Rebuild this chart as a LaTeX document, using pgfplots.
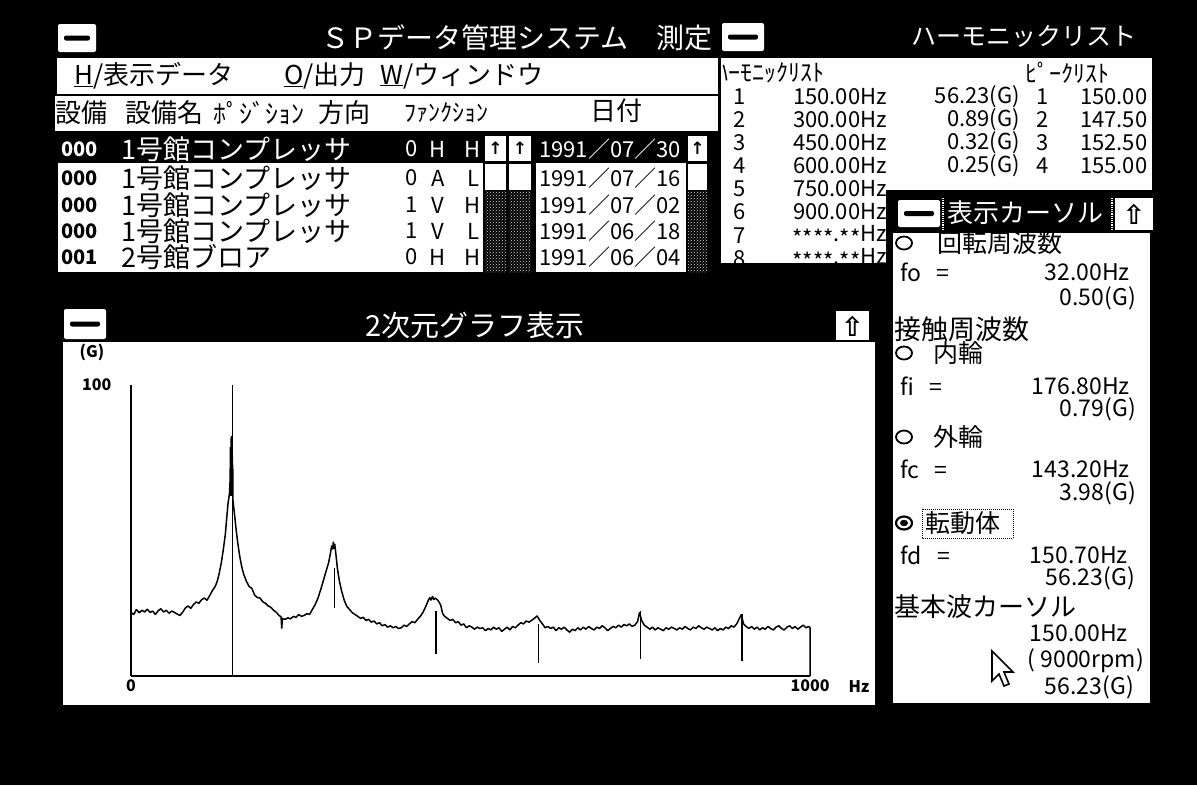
\documentclass[border=0pt]{standalone}
\usepackage{pgfplots}
\pgfplotsset{compat=1.18}
\usepackage{fontspec}
\setmainfont{Noto Sans CJK JP}
\newfontfamily\sym{DejaVu Sans}
\usetikzlibrary{patterns}
\newcommand\fs[1]{\fontsize{#1}{#1}\selectfont}
\newcommand\ax{\raisebox{-5pt}{*}}
\tikzset{
  L/.style={inner sep=0pt, anchor=west},
  R/.style={inner sep=0pt, anchor=east},
  C/.style={inner sep=0pt, anchor=center},
}
% system menu box: x1 y1 x2 y2 (pixel coords, y down)
\newcommand\sysbox[4]{%
  \fill[white,rounded corners=2pt] (#1,#2) rectangle (#3,#4);
  \fill[black,rounded corners=2pt] ({#1+6},{(#2+#4)/2-2.5}) rectangle ({#3-6},{(#2+#4)/2+2.5});}
\newcommand\upbox[4]{%
  \fill[white] (#1,#2) rectangle (#3,#4);
  \node[C,font=\sym\bfseries\fs{17}] at ({(#1+#3)/2},{(#2+#4)/2}) {↑};}
\newcommand\darkcol[4]{%
  \fill[black] (#1,#2) rectangle (#3,#4);
  \fill[pattern=crosshatch dots, pattern color=white!85!black] (#1,#2) rectangle (#3,#4);}

\pgfplotstableread{
f v
0 0.075
4 0.070
8 0.082
12 0.074
16 0.080
20 0.076
24 0.083
28 0.075
32 0.078
36 0.070
40 0.079
44 0.084
48 0.076
52 0.080
56 0.073
60 0.078
64 0.075
68 0.071
72 0.068
76 0.075
80 0.086
84 0.092
88 0.085
92 0.096
96 0.104
100 0.100
104 0.112
108 0.118
112 0.110
116 0.128
120 0.150
124 0.170
127 0.200
130 0.26
133 0.36
136 0.55
139 0.9
141 1.5
143 2.4
145 3.2
146 5
146.5 14
147 3
147.4 19
147.8 3.5
148.2 20
148.6 3.2
149 17
149.4 3
149.8 8
150.2 2.6
151 2.2
153 1.5
155 1.0
157 0.70
160 0.45
163 0.32
166 0.25
170 0.20
174 0.17
178 0.16
182 0.13
186 0.12
190 0.118
194 0.105
198 0.100
202 0.092
206 0.088
210 0.080
214 0.075
218 0.068
221 0.065
222 0.045
223 0.062
227 0.060
231 0.063
235 0.061
239 0.066
243 0.064
247 0.070
251 0.066
255 0.068
259 0.072
263 0.070
267 0.082
271 0.095
275 0.115
279 0.150
283 0.20
287 0.27
291 0.36
294 0.50
295.5 0.62
297 0.55
298 0.70
299 0.56
300 0.66
302 0.45
304 0.30
307 0.20
310 0.15
314 0.110
318 0.090
322 0.082
326 0.074
330 0.070
334 0.066
338 0.062
342 0.064
346 0.058
350 0.060
354 0.055
358 0.057
362 0.052
366 0.054
370 0.049
374 0.051
378 0.047
382 0.049
386 0.046
390 0.048
394 0.045
398 0.046
402 0.050
406 0.048
410 0.052
414 0.056
418 0.054
422 0.060
426 0.066
430 0.075
434 0.090
437 0.105
440 0.120
442 0.110
444 0.125
446 0.112
448 0.118
452 0.110
456 0.095
459 0.072
462 0.066
466 0.062
470 0.058
474 0.060
478 0.054
482 0.056
486 0.050
490 0.052
494 0.046
498 0.049
502 0.047
506 0.044
510 0.047
514 0.045
518 0.046
522 0.042
526 0.045
530 0.043
534 0.047
538 0.044
542 0.046
546 0.041
550 0.044
554 0.047
558 0.043
562 0.048
566 0.046
570 0.050
574 0.054
578 0.052
582 0.057
586 0.055
590 0.058
594 0.062
598 0.067
602 0.058
606 0.052
610 0.046
614 0.048
618 0.045
622 0.047
626 0.042
630 0.046
634 0.044
638 0.047
642 0.043
646 0.040
650 0.044
654 0.042
658 0.046
662 0.043
666 0.047
670 0.044
674 0.048
678 0.045
682 0.043
686 0.047
690 0.045
694 0.049
698 0.046
702 0.042
706 0.045
710 0.048
714 0.046
718 0.050
722 0.047
726 0.051
730 0.049
734 0.052
738 0.048
742 0.050
746 0.056
749 0.075
752 0.058
756 0.050
760 0.047
764 0.044
768 0.047
772 0.043
776 0.046
780 0.044
784 0.042
788 0.046
792 0.044
796 0.047
800 0.045
804 0.043
808 0.046
812 0.044
816 0.048
820 0.045
824 0.043
828 0.047
832 0.045
836 0.049
840 0.046
844 0.044
848 0.047
852 0.045
856 0.043
860 0.046
864 0.042
868 0.045
872 0.043
876 0.047
880 0.045
884 0.049
888 0.047
892 0.052
896 0.062
899 0.070
902 0.052
906 0.048
910 0.045
914 0.048
918 0.044
922 0.047
926 0.043
930 0.046
934 0.044
938 0.048
942 0.045
946 0.043
950 0.047
954 0.049
958 0.045
962 0.043
966 0.047
970 0.049
974 0.045
978 0.048
982 0.044
986 0.047
990 0.050
994 0.046
998 0.048
1000 0.046
1000 0.01
}\spectrum

\begin{document}
\begin{tikzpicture}
\useasboundingbox (0pt,0pt) rectangle (1197pt,-785pt);
\fill[black] (0pt,0pt) rectangle (1197pt,-785pt);

\begin{scope}[x=1pt,y=-1pt]
% ================= main window =================
\sysbox{58}{24}{96}{52}
\node[R,white,font=\fs{28}] at (713,38) {ＳＰデータ管理システム　測定};
\fill[white] (57,58) rectangle (718,94);
\node[L,font=\fs{26}] at (74,76) {\underline{H}/表示データ};
\node[L,font=\fs{26}] at (284,76) {\underline{O}/出力};
\node[L,font=\fs{26}] at (380,76) {\underline{W}/ウィンドウ};
\fill[white] (55,96) rectangle (718,131);
\node[L,font=\fs{26}] at (55,113) {設備};
\node[L,font=\fs{26}] at (125,113) {設備名};
\node[L,font=\fs{26}] at (213,113) {ﾎﾟｼﾞｼｮﾝ};
\node[L,font=\fs{26}] at (318,113) {方向};
\node[L,font=\fs{24}] at (404,113) {ﾌｧﾝｸｼｮﾝ};
\node[L,font=\fs{26}] at (590,111) {日付};
% list
\fill[white] (58,135) rectangle (483,272);
\fill[black] (57,135) rectangle (483,163);
\fill[white] (536,135) rectangle (686,272);
\fill[black] (536,135) rectangle (686,163);
\upbox{485}{136}{506}{161}
\upbox{509}{136}{531}{161}
\upbox{688}{136}{707}{161}
\fill[white] (485,164) rectangle (506,190);
\fill[white] (509,164) rectangle (531,190);
\fill[white] (688,164) rectangle (707,190);
\darkcol{485}{191}{506}{272}
\darkcol{509}{191}{531}{272}
\darkcol{688}{191}{707}{272}
% rows
\foreach \y/\id/\nm/\a/\b/\c/\d [count=\i] in {
  149/000/1号館コンプレッサ/0/H/H/1991∕07∕30,
  178/000/1号館コンプレッサ/0/A/L/1991∕07∕16,
  205/000/1号館コンプレッサ/1/V/H/1991∕07∕02,
  231/000/1号館コンプレッサ/1/V/L/1991∕06∕18,
  257/001/2号館ブロア/0/H/H/1991∕06∕04}{
  \ifnum\i=1 \def\tc{white}\else\def\tc{black}\fi
  \node[L,font=\bfseries\fs{20},text=\tc] at (61,\y) {\id};
  \node[L,font=\fs{27},text=\tc] at (121,\y) {\nm};
  \node[C,font=\fs{22},text=\tc] at (412,\y) {\a};
  \node[C,font=\fs{22},text=\tc] at (438,\y) {\b};
  \node[C,font=\fs{22},text=\tc] at (473,\y) {\c};
  \begin{scope}
    \clip (536,130) rectangle (686,275);
    \node[L,font=\fs{22},text=\tc] at (539,\y) {\d};
  \end{scope}
}

% ================= harmonic list window =================
\sysbox{722}{23}{764}{51}
\node[C,white,font=\fs{25}] at (1024,36) {ハーモニックリスト};
\fill[white] (721,58) rectangle (1152,263);
\begin{scope}
\clip (721,58) rectangle (1152,263);
\node[L,font=\fs{24}] at (716,73) {ﾊｰﾓﾆｯｸﾘｽﾄ};
\node[L,font=\fs{24}] at (1025,73) {ﾋﾟｰｸﾘｽﾄ};
\foreach \y/\n/\fq/\am/\p/\pf in {
  97/1/150.00Hz/56.23(G)/1/150.00,
  120/2/300.00Hz/0.89(G)/2/147.50,
  143/3/450.00Hz/0.32(G)/3/152.50,
  166/4/600.00Hz/0.25(G)/4/155.00,
  189/5/750.00Hz/ / / ,
  212/6/900.00Hz/ / / ,
  236/7/\ax\ax\ax\ax.\ax\ax Hz/ / / ,
  259/8/\ax\ax\ax\ax.\ax\ax Hz/ / / }{
  \node[C,font=\fs{22}] at (740,\y) {\n};
  \node[R,font=\fs{22}] at (887,\y) {\fq};
  \node[R,font=\fs{22}] at (1020,\y) {\am};
  \node[C,font=\fs{22}] at (1043,\y) {\p};
  \node[L,font=\fs{22}] at (1080,\y) {\pf};
}
\end{scope}

% ================= graph window =================
\sysbox{64}{309}{106}{339}
\node[C,white,font=\fs{29}] at (475,325) {2次元グラフ表示};
\fill[white] (836,311) rectangle (869,340);
\node[C,font=\sym\bfseries\fs{27}] at (852.5,326) {⇧};
\fill[white] (63,342) rectangle (875,705);
\node[C,font=\bfseries\fs{16}] at (92,352) {(G)};
\node[C,font=\bfseries\fs{16}] at (859,687) {Hz};

% ================= cursor window =================
\fill[black] (886,190) rectangle (1157,708);
\fill[white] (893,233) rectangle (1150,703);
\sysbox{898}{200}{940}{227}
\draw[white,densely dotted,line width=1.2pt] (943,198) -- (943,230);
\draw[white,densely dotted,line width=1.2pt] (1112,198) -- (1112,230);
\node[L,white,font=\fs{26}] at (947,213) {表示カーソル};
\fill[white] (1115,198) rectangle (1153,230);
\node[C,font=\sym\bfseries\fs{27}] at (1134,214) {⇧};

\draw[line width=1.8pt] (904,243) ellipse (8 and 6.5);
\node[L,font=\fs{25}] at (937,243) {回転周波数};
\node[L,font=\fs{23}] at (900,272) {fo\ \ \ =};
\node[R,font=\fs{23}] at (1130,272) {32.00Hz};
\node[R,font=\fs{23}] at (1136,298) {0.50(G)};
\node[L,font=\fs{27}] at (894,329) {接触周波数};
\draw[line width=1.8pt] (904,353) ellipse (8 and 6.5);
\node[L,font=\fs{25}] at (933,353) {内輪};
\node[L,font=\fs{23}] at (900,386) {fi\ \ \ =};
\node[R,font=\fs{23}] at (1130,386) {176.80Hz};
\node[R,font=\fs{23}] at (1136,409) {0.79(G)};
\draw[line width=1.8pt] (904,437) ellipse (8 and 6.5);
\node[L,font=\fs{25}] at (933,437) {外輪};
\node[L,font=\fs{23}] at (900,469) {fc\ \ \ =};
\node[R,font=\fs{23}] at (1130,469) {143.20Hz};
\node[R,font=\fs{23}] at (1136,493) {3.98(G)};
\draw[line width=2.2pt] (904,523) ellipse (8 and 6.5);
\fill (904,523) ellipse (4 and 3.2);
\node[L,font=\fs{25}] at (925,523) {転動体};
\draw[densely dotted,line width=1pt] (922,509) rectangle (1013,538);
\node[L,font=\fs{23}] at (900,555) {fd\ \ \ =};
\node[R,font=\fs{23}] at (1128,555) {150.70Hz};
\node[R,font=\fs{23}] at (1135,578) {56.23(G)};
\node[L,font=\fs{26}] at (894,607) {基本波カーソル};
\node[R,font=\fs{23}] at (1128,633) {150.00Hz};
\node[R,font=\fs{23}] at (1144,661) {(\ 9000rpm)};
\node[R,font=\fs{23}] at (1134,687) {56.23(G)};
% mouse pointer
\draw[fill=white,line width=1.6pt,line join=miter]
  (992,651) -- (992,681) -- (999,674) -- (1004,686) -- (1009,684) -- (1004,672) -- (1013,672) -- cycle;
\end{scope}

% ================= spectrum axis =================
\begin{axis}[
  at={(131pt,-676pt)}, anchor=south west,
  width=679pt, height=291pt, scale only axis,
  xmin=0, xmax=1000, ymode=log, ymin=0.01, ymax=100,
  axis x line=bottom, axis y line=left,
  axis line style={-, line width=1.6pt},
  xtick={0,1000}, xticklabels={0,1000},
  ytick={100}, yticklabels={100},
  minor ytick={}, minor xtick={},
  major tick length=0pt, minor tick length=0pt,
  ticklabel style={font=\bfseries\fs{16}},
  yticklabel style={xshift=-16pt},
  clip=false,
]
\addplot[black, line width=1.5pt, line join=bevel] table[x=f,y=v] {\spectrum};
\addplot[black, line width=1.2pt] coordinates {(150,0.01) (150,100)};
\addplot[black, line width=1.4pt] coordinates {(300,0.31) (300,0.085)};
\addplot[black, line width=1.4pt] coordinates {(449,0.079) (449,0.020)};
\addplot[black, line width=1.4pt] coordinates {(600,0.052) (600,0.015)};
\addplot[black, line width=1.4pt] coordinates {(750,0.079) (750,0.017)};
\addplot[black, line width=1.4pt] coordinates {(900,0.072) (900,0.016)};
\end{axis}
\end{tikzpicture}
\end{document}
